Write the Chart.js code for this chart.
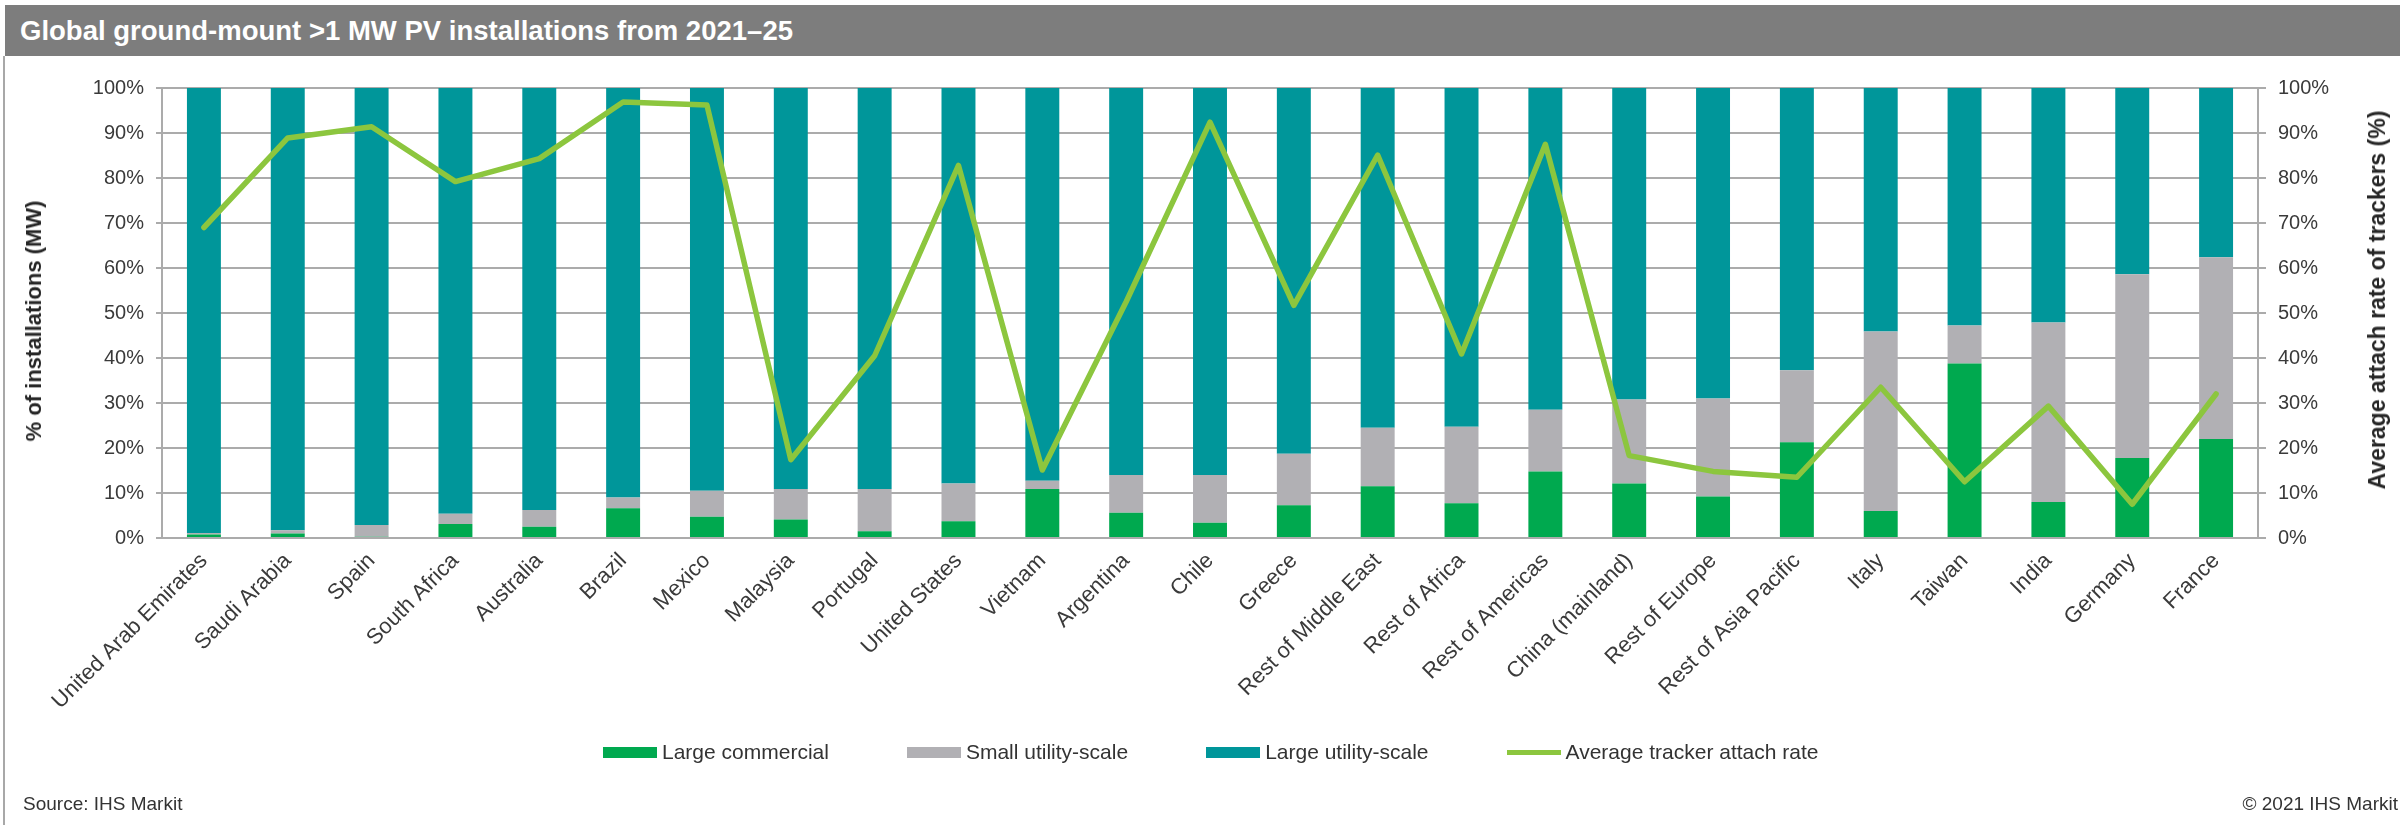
<!DOCTYPE html>
<html>
<head>
<meta charset="utf-8">
<script src="https://cdn.jsdelivr.net/npm/chart.js@4.4.1/dist/chart.umd.min.js"></script>
<style>
  html, body { margin: 0; padding: 0; background: #ffffff; }
  body { width: 2400px; height: 825px; overflow: hidden; position: relative; font-family: 'Liberation Sans', Arial, sans-serif; }
  #chartWrap { position: absolute; left: 0; top: 0; width: 2400px; height: 825px; }
  #titleBar { position: absolute; left: 5px; top: 5px; width: 2395px; height: 51px; background: #7d7d7d; z-index: 2; }
  #titleText { position: absolute; left: 15px; top: 0; height: 51px; line-height: 51px; color: #ffffff; font-weight: bold; font-size: 28px; white-space: nowrap; transform-origin: 0 50%; font-family: 'Liberation Sans Narrow', 'Liberation Sans', Arial, sans-serif; }
  #leftBorder { position: absolute; left: 3px; top: 56px; width: 2px; height: 769px; background: #a8a8a8; z-index: 2; }
  .axisTitle { position: absolute; transform: translate(-50%, -50%) rotate(-90deg); font-weight: bold; color: #262626; white-space: nowrap; line-height: 26px; z-index: 2; }
  #leftTitle { left: 34px; top: 321px; font-size: 22px; }
  #rightTitle { left: 2377px; top: 300px; font-size: 23px; }
  #legend { position: absolute; left: 603px; top: 740px; height: 24px; display: flex; align-items: center; gap: 78px; font-size: 21px; color: #333333; z-index: 2; }
  .item { display: flex; align-items: center; white-space: nowrap; }
  .swatch { width: 54px; height: 11px; margin-right: 5px; }
  .lineSwatch { width: 54px; height: 5px; margin-right: 5px; }
  #source { position: absolute; left: 23px; top: 794px; font-size: 19px; line-height: 19px; color: #333333; white-space: nowrap; }
  #copyright { position: absolute; right: 2px; top: 794px; font-size: 19px; line-height: 19px; color: #333333; white-space: nowrap; }
</style>
</head>
<body>
<div id="chartWrap"><canvas id="c" width="2400" height="825"></canvas></div>
<div id="titleBar"><div id="titleText">Global ground-mount &gt;1 MW PV installations from 2021–25</div></div>
<div id="leftBorder"></div>
<div id="leftTitle" class="axisTitle">% of installations (MW)</div>
<div id="rightTitle" class="axisTitle">Average attach rate of trackers (%)</div>
<div id="legend"></div>
<div id="source">Source: IHS Markit</div>
<div id="copyright">© 2021 IHS Markit</div>
<script>
// ---------- DATA ----------
const categories = [
  'United Arab Emirates', 'Saudi Arabia', 'Spain', 'South Africa', 'Australia',
  'Brazil', 'Mexico', 'Malaysia', 'Portugal', 'United States', 'Vietnam',
  'Argentina', 'Chile', 'Greece', 'Rest of Middle East', 'Rest of Africa',
  'Rest of Americas', 'China (mainland)', 'Rest of Europe', 'Rest of Asia Pacific',
  'Italy', 'Taiwan', 'India', 'Germany', 'France'
];
const largeCommercial = [0.8, 1.0, 0.3, 3.1, 2.5, 6.6, 4.7, 4.1, 1.5, 3.7, 10.9, 5.6, 3.4, 7.3, 11.5, 7.7, 14.8, 12.1, 9.2, 21.3, 6.0, 38.8, 8.0, 17.8, 22.0];
const smallUtility    = [0.3, 0.7, 2.6, 2.3, 3.7, 2.4, 5.8, 6.8, 9.4, 8.4, 1.8, 8.4, 10.6, 11.4, 13.0, 17.0, 13.7, 18.7, 21.8, 16.0, 39.9, 8.4, 39.9, 40.8, 40.4];
const largeUtility    = [98.9, 98.3, 97.1, 94.6, 93.8, 91.0, 89.5, 89.1, 89.1, 87.9, 87.3, 86.0, 86.0, 81.3, 75.5, 75.3, 71.5, 69.2, 69.0, 62.7, 54.1, 52.8, 52.1, 41.4, 37.6];
const trackerRate     = [69.0, 88.9, 91.4, 79.2, 84.3, 96.9, 96.2, 17.4, 40.5, 82.8, 15.1, 52.5, 92.4, 51.7, 85.1, 40.9, 87.5, 18.3, 14.8, 13.5, 33.5, 12.5, 29.3, 7.5, 32.0];
const tickLabels = ['0%', '10%', '20%', '30%', '40%', '50%', '60%', '70%', '80%', '90%', '100%'];
const seriesNames = ['Large commercial', 'Small utility-scale', 'Large utility-scale', 'Average tracker attach rate'];
const seriesColors = ['#00a94f', '#b1b0b4', '#00969a', '#8cc63e'];

// ---------- TITLE FIT ----------
(function () {
  const t = document.getElementById('titleText');
  const w = t.getBoundingClientRect().width;
  if (w > 0) t.style.transform = 'scaleX(' + (773 / w) + ')';
})();

// ---------- LEGEND (HTML) ----------
(function () {
  const lg = document.getElementById('legend');
  seriesNames.forEach((name, i) => {
    const it = document.createElement('div');
    it.className = 'item';
    const sw = document.createElement('span');
    sw.className = i === 3 ? 'lineSwatch' : 'swatch';
    sw.style.background = seriesColors[i];
    const tx = document.createElement('span');
    tx.textContent = name;
    it.appendChild(sw); it.appendChild(tx);
    lg.appendChild(it);
  });
})();

// ---------- CHART ----------
Chart.defaults.font.family = "'Liberation Sans', Arial, sans-serif";
Chart.defaults.color = '#3a3a3a';
const gridColor = '#ababab';

new Chart(document.getElementById('c'), {
  type: 'bar',
  data: {
    labels: categories,
    datasets: [
      { type: 'line', label: seriesNames[3], data: trackerRate, yAxisID: 'y1',
        borderColor: seriesColors[3], backgroundColor: seriesColors[3], borderWidth: 5.5,
        pointRadius: 0, tension: 0, borderJoinStyle: 'round', borderCapStyle: 'round', order: 0 },
      { label: seriesNames[0], data: largeCommercial, backgroundColor: seriesColors[0], yAxisID: 'y', stack: 's', order: 1 },
      { label: seriesNames[1], data: smallUtility, backgroundColor: seriesColors[1], yAxisID: 'y', stack: 's', order: 1 },
      { label: seriesNames[2], data: largeUtility, backgroundColor: seriesColors[2], yAxisID: 'y', stack: 's', order: 1 }
    ]
  },
  options: {
    responsive: false,
    animation: false,
    events: [],
    layout: { padding: { top: 88, left: 0, right: 0, bottom: 0 } },
    datasets: { bar: { categoryPercentage: 1.0, barPercentage: 0.405 } },
    plugins: { legend: { display: false }, tooltip: { enabled: false }, title: { display: false } },
    scales: {
      x: {
        stacked: true,
        grid: { display: false, drawTicks: false },
        border: { display: false },
        ticks: { font: { size: 22 }, minRotation: 45, maxRotation: 45, autoSkip: false, padding: 10, color: '#3a3a3a' },
        afterFit: (s) => { s.height = 287; }
      },
      y: {
        stacked: true, position: 'left', min: 0, max: 100,
        grid: { color: gridColor, lineWidth: 2, tickLength: 6 },
        border: { display: true, color: gridColor, width: 2 },
        ticks: { stepSize: 10, font: { size: 20 }, padding: 12, color: '#3a3a3a', callback: (v, i) => tickLabels[i] },
        title: { display: false },
        afterFit: (s) => { s.width = 162; }
      },
      y1: {
        position: 'right', min: 0, max: 100,
        grid: { drawOnChartArea: false, color: gridColor, lineWidth: 2, tickLength: 8 },
        border: { display: true, color: gridColor, width: 2 },
        ticks: { stepSize: 10, font: { size: 20 }, padding: 12, color: '#3a3a3a', callback: (v, i) => tickLabels[i] },
        title: { display: false },
        afterFit: (s) => { s.width = 142; }
      }
    }
  }
});
</script>
</body>
</html>
